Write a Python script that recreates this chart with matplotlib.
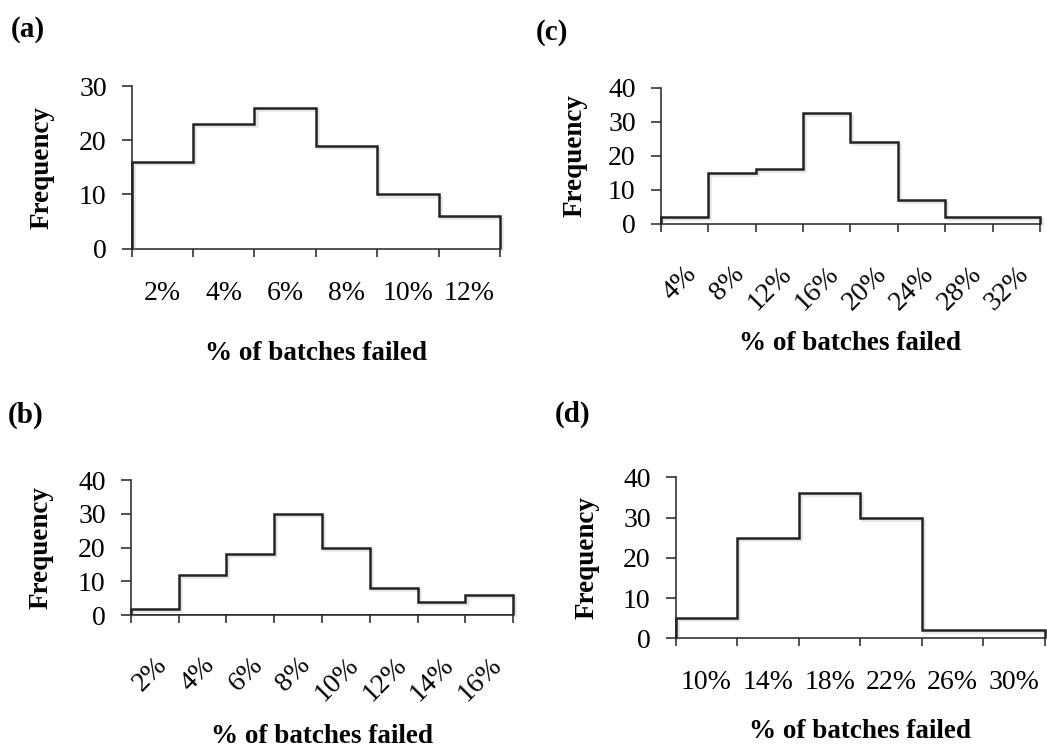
import numpy as np
import matplotlib
matplotlib.use('Agg')
import matplotlib.pyplot as plt
import matplotlib.patheffects as pe
from matplotlib.ticker import NullFormatter

plt.rcParams['font.family'] = ['Liberation Serif', 'DejaVu Serif']

# histogram data
a_labels = ['2%', '4%', '6%', '8%', '10%', '12%']
a_freq = [16, 23, 26, 19, 10, 6]

b_labels = ['2%', '4%', '6%', '8%', '10%', '12%', '14%', '16%']
b_freq = [2, 12, 18, 30, 20, 8, 4, 6]

c_labels = ['4%', '8%', '12%', '16%', '20%', '24%', '28%', '32%']
c_freq = [2, 15, 16, 32.5, 24, 7, 2, 2]

d_labels = ['10%', '14%', '18%', '22%', '26%', '30%']
d_freq = [5, 25, 36, 30, 2, 2]

W, H = 1047, 751
LINE = '#222222'
AXC = '#333333'
TICK_FS = 20
LAB_FS = 19.5


def px_axes(left, right, top, bottom):
    # pixel box -> figure fraction rect
    return [left / W, 1 - bottom / H, (right - left) / W, (bottom - top) / H]


def draw_panel(rect, labels, freq, ymax, rotate, ylab_off, xlab_top, close_bottom=False):
    ax = fig.add_axes(px_axes(*rect))
    edges = np.arange(len(freq) + 1)
    centers = edges[:-1] + 0.5
    shadow = [pe.SimpleLineShadow(offset=(1.5, -1.5), shadow_color='#999999', alpha=0.25),
              pe.Normal()]
    ax.stairs(freq, edges, baseline=0, color=LINE, lw=1.8, clip_on=False,
              path_effects=shadow, zorder=3)
    if close_bottom:
        ax.axhline(0, color=LINE, lw=1.8, zorder=3)
    ax.set_xlim(edges[0], edges[-1])
    ax.set_ylim(0, ymax)
    ax.set_yticks(np.arange(0, ymax + 1, 10))
    ax.set_xticks(edges)
    ax.xaxis.set_major_formatter(NullFormatter())
    ax.set_xticks(centers, minor=True)
    if rotate:
        ax.set_xticklabels(labels, minor=True, rotation=45, ha='right', va='top',
                           rotation_mode='anchor')
        xpad = 27
    else:
        ax.set_xticklabels(labels, minor=True)
        xpad = 23
    ax.tick_params(axis='y', direction='out', length=7, width=1.2, pad=11,
                   labelsize=TICK_FS, color=AXC)
    ax.tick_params(axis='x', which='major', direction='out', length=6, width=1.2, color=AXC)
    ax.tick_params(axis='x', which='minor', length=0, pad=xpad, labelsize=TICK_FS)
    for s in ['top', 'right']:
        ax.spines[s].set_visible(False)
    for s in ['left', 'bottom']:
        ax.spines[s].set_color(AXC)
        ax.spines[s].set_linewidth(1.2)
    wpx = rect[1] - rect[0]
    hpx = rect[3] - rect[2]
    ax.set_ylabel('Frequency', fontsize=LAB_FS, fontweight='bold')
    ax.yaxis.set_label_coords(-ylab_off / wpx, 0.5)
    ax.set_xlabel('% of batches failed', fontsize=LAB_FS, fontweight='bold', va='top')
    ax.xaxis.set_label_coords(0.5, -(xlab_top - rect[3]) / hpx)
    return ax


fig = plt.figure(figsize=(W / 100, H / 100), dpi=100)

# (left, right, top, bottom) in pixels
draw_panel((131.7, 500, 86, 248.7), a_labels, a_freq, 30, False, 77, 341)
draw_panel((660.7, 1040, 87.7, 223.7), c_labels, c_freq, 40, True, 73, 331)
draw_panel((130.7, 513.3, 480, 615.3), b_labels, b_freq, 40, True, 77, 724, close_bottom=True)
draw_panel((675.7, 1045, 477.3, 638.3), d_labels, d_freq, 40, False, 76, 719)

for txt, x, y in [('(a)', 11, 16), ('(c)', 536, 19), ('(b)', 8, 402), ('(d)', 555, 401)]:
    fig.text(x / W, 1 - y / H, txt, fontsize=21, fontweight='bold', ha='left', va='top')

fig.savefig('out.png', dpi=100)
